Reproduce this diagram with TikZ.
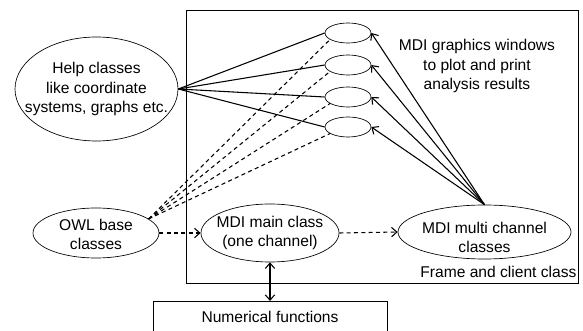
\documentclass[tikz,border=0pt]{standalone}
\usepackage{fontspec}
\setmainfont{Liberation Sans}
\usetikzlibrary{arrows.meta,shapes.geometric}

\begin{document}
\begin{tikzpicture}[>={Straight Barb[length=4pt,width=7pt]},x=0.75pt,y=-0.75pt,line width=0.8pt,
  txt/.style={align=center,font=\fontsize{11.7}{14.3}\selectfont},
  cls/.style={ellipse,draw,line width=0.5pt,inner sep=0pt},
  win/.style={ellipse,draw,line width=0.5pt,minimum width=34.5pt,minimum height=15pt,inner sep=0pt},
  dot/.style={dash pattern=on 3pt off 2.5pt}]
\clip (0,0) rectangle (583,331);
\draw[line width=0.6pt] (186,10) rectangle (578,283);
\node[cls,minimum width=122.25pt,minimum height=78pt] (help) at (96.5,89) {};
\node[txt] (helptext) at (help) {Help classes\\like coordinate\\systems, graphs etc.};
\node[cls,minimum width=94.5pt,minimum height=37.5pt] (owl) at (96,233) {};
\node[txt] (owltext) at ([yshift=-1pt]owl.center) {OWL base\\classes};
\node[cls,minimum width=103.5pt,minimum height=43.5pt] (main) at (270,233) {};
\node[txt] (maintext) at (main) {MDI main class\\(one channel)};
\node[cls,minimum width=129.75pt,minimum height=40.5pt] (multi) at (484.5,232) {};
\node[txt] (multitext) at ([yshift=-4pt]multi.center) {MDI multi channel\\classes};
\foreach \i/\y in {1/33,2/65,3/97,4/127}
  \node[win] (w\i) at (348,\y) {};
\node[txt] (gfx) at (477,66) {MDI graphics windows\\to plot and print\\analysis results};
\node[txt,anchor=base east,inner sep=0pt] (flabel) at (577,278) {Frame and client class};
\node[txt,draw,line width=0.6pt,anchor=north,minimum width=175.5pt,text height=8.25pt,text depth=20pt,inner ysep=7.5pt] (num) at (270,301) {Numerical functions};
\foreach \i in {1,...,4} {
  \draw (help.east) -- (w\i.west);
  \draw[dot] (owl.15) -- (w\i.200);
  \draw[->] (multi.north) -- (w\i.east);
}
\draw[dot,->] (owl.east) -- (main.west);
\draw[dot,->] (main.east) -- (multi.west);
\draw[<->] (main.south) -- (num.north);
\end{tikzpicture}
\end{document}
